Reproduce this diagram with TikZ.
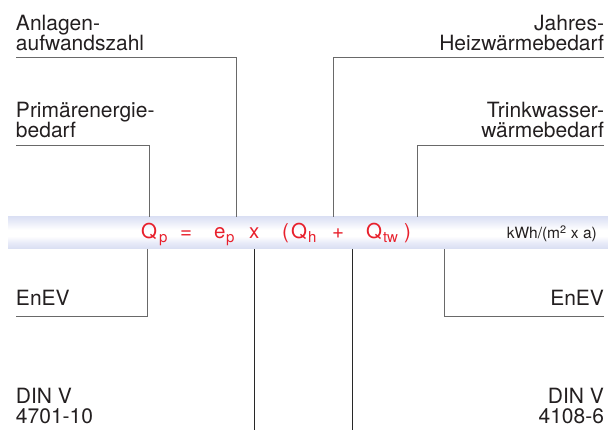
\documentclass[tikz,border=0pt]{standalone}
\usepackage{fontspec}
\setmainfont{TeX Gyre Heros}
\definecolor{lav}{RGB}{180,190,228}
\definecolor{lavmid}{RGB}{205,212,238}
\definecolor{lavlight}{RGB}{232,235,248}
\definecolor{eqred}{RGB}{232,32,44}
\definecolor{txt}{RGB}{35,31,32}
\definecolor{leadgray}{RGB}{105,105,105}
\definecolor{leaddark}{RGB}{40,40,40}
\pgfdeclareverticalshading{barshade}{100bp}{color(0bp)=(lav); color(18bp)=(lavmid); color(35bp)=(lavlight); color(45bp)=(white); color(55bp)=(white); color(68bp)=(lavlight); color(84bp)=(lavmid); color(100bp)=(lav)}
\tikzset{
  lbl/.style={inner sep=0pt, outer sep=0pt, text=txt, font=\fontsize{21}{20}\selectfont},
  eqm/.style={inner sep=0pt, outer sep=0pt, anchor=base west, text=eqred, font=\fontsize{20.5}{20}\selectfont},
  eqs/.style={inner sep=0pt, outer sep=0pt, anchor=base west, text=eqred, font=\fontsize{15}{15}\selectfont},
  lead/.style={draw=leadgray, line width=0.9pt},
  leadd/.style={draw=leaddark, line width=0.9pt},
}
\begin{document}
\begin{tikzpicture}[x=1pt,y=1pt]
\useasboundingbox (0,0) rectangle (608,430);
% bar
\fill[shading=barshade] (8,181) rectangle (608,213);
% connector points
\coordinate (a1) at (16,373); \coordinate (a2) at (236,373); \coordinate (a3) at (236,213);
\coordinate (b1) at (16,285); \coordinate (b2) at (149,285); \coordinate (b3) at (149,213);
\coordinate (c1) at (604,373); \coordinate (c2) at (333,373); \coordinate (c3) at (333,213);
\coordinate (d1) at (604,285); \coordinate (d2) at (417,285); \coordinate (d3) at (417,213);
\coordinate (e1) at (16,114); \coordinate (e2) at (147,114); \coordinate (e3) at (147,181);
\coordinate (f1) at (254,181); \coordinate (f2) at (254,0);
\coordinate (g1) at (352,181); \coordinate (g2) at (352,0);
\coordinate (h1) at (604,114); \coordinate (h2) at (444,114); \coordinate (h3) at (444,181);
\draw[lead] (a1) -- (a2) -- (a3);
\draw[lead] (b1) -- (b2) -- (b3);
\draw[lead] (c1) -- (c2) -- (c3);
\draw[lead] (d1) -- (d2) -- (d3);
\draw[lead] (e1) -- (e2) -- (e3);
\draw[leadd] (f1) -- (f2);
\draw[leadd] (g1) -- (g2);
\draw[lead] (h1) -- (h2) -- (h3);
% labels top
\node[lbl, anchor=base west] (anl1) at (16,399) {Anlagen-};
\node[lbl, anchor=base west] (anl2) at (16,379) {aufwandszahl};
\node[lbl, anchor=base west] (pri1) at (16,312) {Primärenergie-};
\node[lbl, anchor=base west] (pri2) at (16,292) {bedarf};
\node[lbl, anchor=base east] (jah1) at (604,399) {Jahres-};
\node[lbl, anchor=base east] (jah2) at (604,379) {Heizwärmebedarf};
\node[lbl, anchor=base east] (tri1) at (604,312) {Trinkwasser-};
\node[lbl, anchor=base east] (tri2) at (604,292) {wärmebedarf};
% labels bottom
\node[lbl, anchor=base west] (env1) at (16,124) {EnEV};
\node[lbl, anchor=base east] (env2) at (604,124) {EnEV};
\node[lbl, anchor=base west] (din1a) at (16,26) {DIN V};
\node[lbl, anchor=base west] (din1b) at (16,6) {4701-10};
\node[lbl, anchor=base east] (din2a) at (604,26) {DIN V};
\node[lbl, anchor=base east] (din2b) at (604,6) {4108-6};
% equation
\node[eqm] (q1) at (141,191) {Q};
\node[eqs] (q1s) at (159,187) {p};
\node[eqm] (eq) at (180,191) {=};
\node[eqm] (e) at (214,191) {e};
\node[eqs] (es) at (226,187) {p};
\node[eqm] (x) at (249,191) {x};
\node[eqm] (lp) at (282,191) {(};
\node[eqm] (q2) at (291,191) {Q};
\node[eqs] (q2s) at (308,187) {h};
\node[eqm] (pl) at (332,191) {+};
\node[eqm] (q3) at (366,191) {Q};
\node[eqs] (q3s) at (383,187) {tw};
\node[eqm] (rp) at (404,191) {)};
\node[inner sep=0pt, anchor=base east, text=txt, font=\fontsize{15.5}{15}\selectfont] (unit) at (597,191) {kWh/(m\textsuperscript{2} x a)};
\end{tikzpicture}
\end{document}
